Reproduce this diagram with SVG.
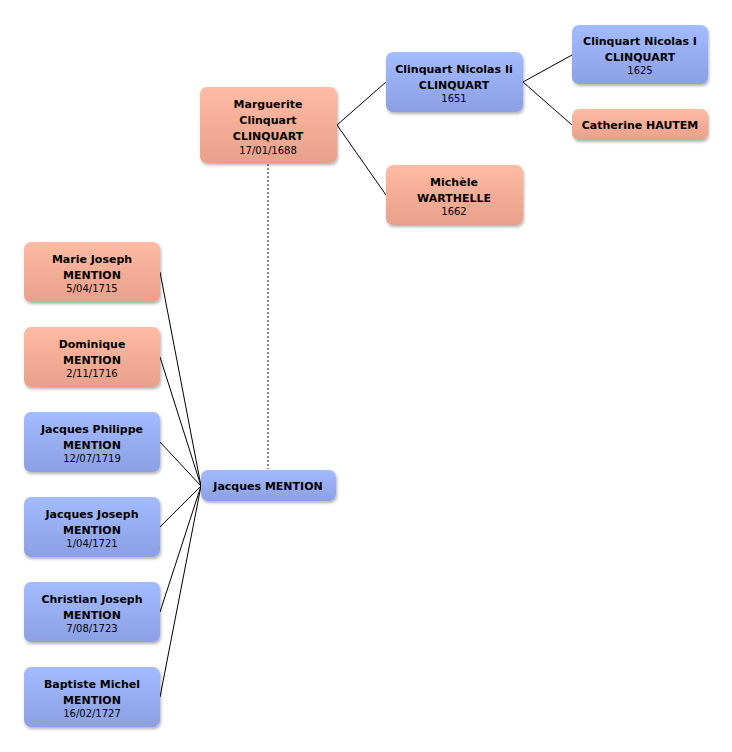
<svg xmlns="http://www.w3.org/2000/svg" width="732" height="752" viewBox="0 0 732 752">
<defs>
<linearGradient id="gF" x1="0" y1="0" x2="0" y2="1"><stop offset="0" stop-color="#FFBBA3"/><stop offset="1" stop-color="#E8A08B"/></linearGradient>
<linearGradient id="gM" x1="0" y1="0" x2="0" y2="1"><stop offset="0" stop-color="#A3BBFF"/><stop offset="1" stop-color="#8CA0E3"/></linearGradient>
<filter id="sh" x="-10%" y="-10%" width="130%" height="140%"><feDropShadow dx="1" dy="2" stdDeviation="1.5" flood-color="#000" flood-opacity="0.3"/></filter>
</defs>
<style>
.f{fill:url(#gF);filter:url(#sh)}
.m{fill:url(#gM);filter:url(#sh)}
text{font-family:"DejaVu Sans","Noto Sans",sans-serif;text-anchor:middle;fill:#000}
.b{font-size:11px;font-weight:bold}
.d{font-size:10px}
.c{stroke:#000;stroke-width:1;fill:none}
.dash{stroke:#666;stroke-width:1.5;stroke-dasharray:2,2;fill:none}
</style>
<rect width="732" height="752" fill="#fff"/>
<g id="connectors">
<line class="dash" x1="268" y1="164" x2="268" y2="469"/>
<polyline class="c" points="386,82 337,125 386,195"/>
<polyline class="c" points="572,55 523,82 572,125"/>
<line class="c" x1="160" y1="272" x2="201" y2="486"/>
<line class="c" x1="160" y1="357" x2="201" y2="486"/>
<line class="c" x1="160" y1="442" x2="201" y2="486"/>
<line class="c" x1="160" y1="527" x2="201" y2="486"/>
<line class="c" x1="160" y1="612" x2="201" y2="486"/>
<line class="c" x1="160" y1="697" x2="201" y2="486"/>
</g>
<g id="marguerite">
<rect class="f" x="200" y="87" width="137" height="76" rx="7"/>
<text class="b" x="268" y="108">Marguerite</text>
<text class="b" x="268" y="124">Clinquart</text>
<text class="b" x="268" y="140">CLINQUART</text>
<text class="d" x="268" y="154">17/01/1688</text>
</g>
<g id="nicolas2">
<rect class="m" x="386" y="52" width="137" height="60" rx="7"/>
<text class="b" x="454" y="73">Clinquart Nicolas Ii</text>
<text class="b" x="454" y="89">CLINQUART</text>
<text class="d" x="454" y="102">1651</text>
</g>
<g id="michele">
<rect class="f" x="386" y="165" width="137" height="60" rx="7"/>
<text class="b" x="454" y="186">Michèle</text>
<text class="b" x="454" y="202">WARTHELLE</text>
<text class="d" x="454" y="215">1662</text>
</g>
<g id="nicolas1">
<rect class="m" x="572" y="25" width="136" height="59" rx="7"/>
<text class="b" x="640" y="45">Clinquart Nicolas I</text>
<text class="b" x="640" y="61">CLINQUART</text>
<text class="d" x="640" y="74">1625</text>
</g>
<g id="catherine">
<rect class="f" x="572" y="109" width="136" height="31" rx="7"/>
<text class="b" x="640" y="129">Catherine HAUTEM</text>
</g>
<g id="jacques">
<rect class="m" x="201" y="470" width="135" height="31" rx="7"/>
<text class="b" x="268" y="490">Jacques MENTION</text>
</g>
<g id="marie">
<rect class="f" x="24" y="242" width="136" height="60" rx="7"/>
<text class="b" x="92" y="263">Marie Joseph</text>
<text class="b" x="92" y="279">MENTION</text>
<text class="d" x="92" y="292">5/04/1715</text>
</g>
<g id="dominique">
<rect class="f" x="24" y="327" width="136" height="60" rx="7"/>
<text class="b" x="92" y="348">Dominique</text>
<text class="b" x="92" y="364">MENTION</text>
<text class="d" x="92" y="377">2/11/1716</text>
</g>
<g id="jphilippe">
<rect class="m" x="24" y="412" width="136" height="60" rx="7"/>
<text class="b" x="92" y="433">Jacques Philippe</text>
<text class="b" x="92" y="449">MENTION</text>
<text class="d" x="92" y="462">12/07/1719</text>
</g>
<g id="jjoseph">
<rect class="m" x="24" y="497" width="136" height="60" rx="7"/>
<text class="b" x="92" y="518">Jacques Joseph</text>
<text class="b" x="92" y="534">MENTION</text>
<text class="d" x="92" y="547">1/04/1721</text>
</g>
<g id="christian">
<rect class="m" x="24" y="582" width="136" height="60" rx="7"/>
<text class="b" x="92" y="603">Christian Joseph</text>
<text class="b" x="92" y="619">MENTION</text>
<text class="d" x="92" y="632">7/08/1723</text>
</g>
<g id="baptiste">
<rect class="m" x="24" y="667" width="136" height="60" rx="7"/>
<text class="b" x="92" y="688">Baptiste Michel</text>
<text class="b" x="92" y="704">MENTION</text>
<text class="d" x="92" y="717">16/02/1727</text>
</g>
</svg>
